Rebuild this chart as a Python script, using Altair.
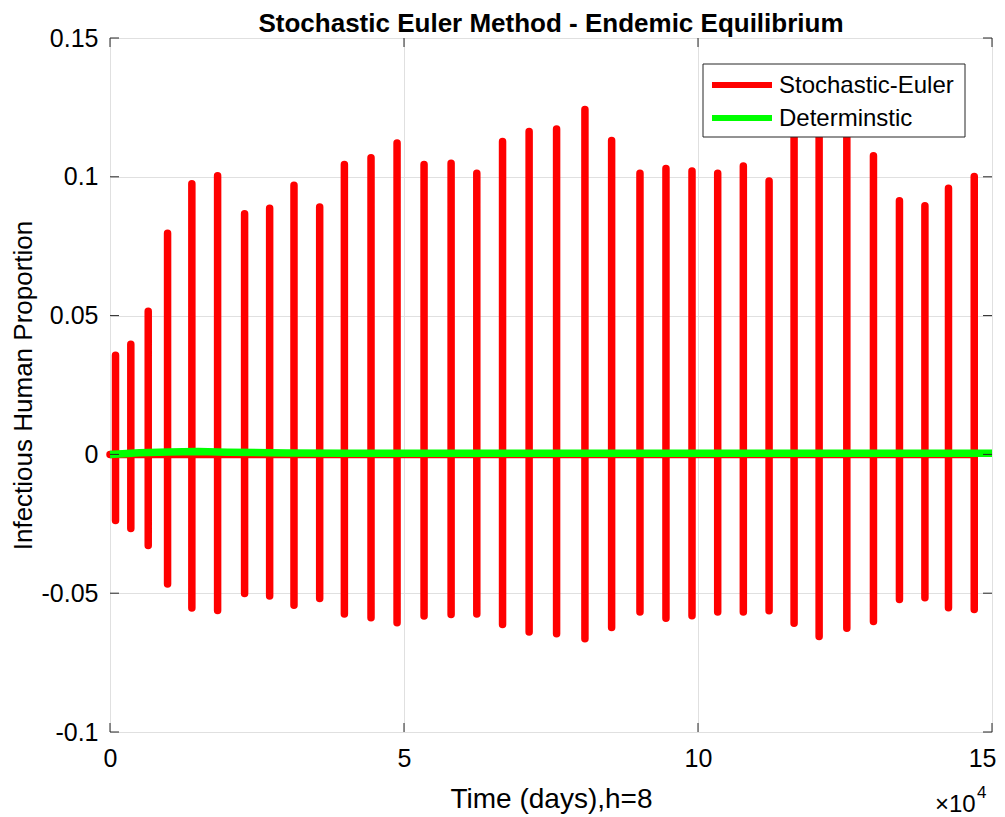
import altair as alt
import pandas as pd

# ---- data ----
spike_t = [0.094, 0.354, 0.650, 0.979, 1.392, 1.830, 2.289, 2.715, 3.129, 3.566,
           3.986, 4.439, 4.882, 5.341, 5.801, 6.238, 6.676, 7.128, 7.595, 8.077,
           8.531, 9.013, 9.455, 9.898, 10.335, 10.771, 11.209, 11.634, 12.060, 12.531,
           12.984, 13.426, 13.859, 14.260, 14.698]
spike_peak = [0.0357, 0.0397, 0.0516, 0.0797, 0.0975, 0.1004, 0.0867, 0.0887, 0.0970, 0.0891,
              0.1044, 0.1069, 0.1122, 0.1044, 0.1049, 0.1013, 0.1127, 0.1163, 0.1172, 0.1242,
              0.1131, 0.1013, 0.1030, 0.1021, 0.1013, 0.1039, 0.0985, 0.1160, 0.1190, 0.1165,
              0.1076, 0.0914, 0.0896, 0.0959, 0.1001]
spike_trough = [-0.0238, -0.0267, -0.0328, -0.0467, -0.0553, -0.0562, -0.0501, -0.0510, -0.0543, -0.0519,
                -0.0575, -0.0588, -0.0606, -0.0582, -0.0577, -0.0575, -0.0613, -0.0640, -0.0646, -0.0664,
                -0.0624, -0.0568, -0.0590, -0.0581, -0.0568, -0.0568, -0.0563, -0.0608, -0.0656, -0.0626,
                -0.0602, -0.0523, -0.0516, -0.0552, -0.0559]

det_t = [0, 0.5, 1.0, 1.5, 2.0, 3.0, 4.0, 6.0, 8.0, 10.0, 12.0, 15.0]
det_v = [0.0, 0.0006, 0.0009, 0.0010, 0.0008, 0.0005, 0.0004, 0.0004, 0.0004, 0.0004, 0.0004, 0.0004]

x_ticks = [0, 5, 10, 15]
y_ticks = [-0.1, -0.05, 0, 0.05, 0.1, 0.15]
series_names = ["Stochastic-Euler", "Determinstic"]
series_colors = ["#ff0000", "#00ff00"]
title_text = "Stochastic Euler Method - Endemic Equilibrium"

# ---- tables ----
rows = [{"t": 0.0, "v": 0.0, "o": 0, "s": series_names[0]}]
k = 1
for t, p, tr in zip(spike_t, spike_peak, spike_trough):
    for v in (0.0, p, tr, 0.0):
        rows.append({"t": t, "v": v, "o": k, "s": series_names[0]})
        k += 1
red_df = pd.DataFrame(rows)
green_df = pd.DataFrame({"t": det_t, "v": det_v, "o": list(range(len(det_t))),
                         "s": series_names[1]})
xt_df = pd.DataFrame({"t": x_ticks})
yt_df = pd.DataFrame({"v": y_ticks})
leg_df = pd.DataFrame({"s": series_names, "c": series_colors})
title_df = pd.DataFrame({"txt": [title_text]})

W, H = 882, 694
FONT = "Liberation Sans"
AX = "#262626"

xscale = alt.Scale(domain=[0, 15], nice=False, zero=False)
yscale = alt.Scale(domain=[-0.1, 0.15], nice=False, zero=False)
cscale = alt.Scale(domain=series_names, range=series_colors)

x_axis = alt.Axis(values=x_ticks, title="Time (days),h=8", grid=True, gridColor="#e0e0e0",
                  domain=False, ticks=False, labelFontSize=25, labelFont=FONT, labelColor="#000",
                  labelPadding=14, labelFlush=False,
                  labelAlign={"condition": {"test": "datum.value == 15", "value": "right"},
                              "value": "center"},
                  labelOffset={"condition": {"test": "datum.value == 15", "value": 4},
                               "value": 0},
                  titleFontSize=28, titleFont=FONT,
                  titleFontWeight="normal", titleColor="#000", titlePadding=14)
y_axis = alt.Axis(values=y_ticks, title="Infectious Human Proportion", grid=True, gridColor="#e0e0e0",
                  domain=False, ticks=False, labelFontSize=25, labelFont=FONT, labelColor="#000",
                  labelPadding=12, labelFlush=False, labelExpr="'' + datum.value",
                  titleFontSize=26, titleFont=FONT, titleFontWeight="normal", titleColor="#000",
                  titlePadding=5)

X = alt.X("t:Q", scale=xscale, axis=x_axis)
Y = alt.Y("v:Q", scale=yscale, axis=y_axis)

red = alt.Chart(red_df).mark_line(strokeWidth=7.5, strokeCap="round", strokeJoin="round").encode(
    x=X, y=Y,
    color=alt.Color("s:N", scale=cscale, legend=None),
    order="o:Q",
)
green = alt.Chart(green_df).mark_line(strokeWidth=7.5, strokeCap="butt", strokeJoin="round").encode(
    x=X, y=Y,
    color=alt.Color("s:N", scale=cscale, legend=None),
    order="o:Q",
)

tick_y_left = alt.Chart(yt_df).mark_rule(color=AX, strokeWidth=1).encode(
    y=Y, x=alt.value(0), x2=alt.value(9))
tick_y_right = alt.Chart(yt_df).mark_rule(color=AX, strokeWidth=1).encode(
    y=Y, x=alt.value(W - 9), x2=alt.value(W))
tick_x_bot = alt.Chart(xt_df).mark_rule(color=AX, strokeWidth=1).encode(
    x=X, y=alt.value(H - 9), y2=alt.value(H))
tick_x_top = alt.Chart(xt_df).mark_rule(color=AX, strokeWidth=1).encode(
    x=X, y=alt.value(0), y2=alt.value(9))

# legend box (drawn by hand, MATLAB style)
LX, LY, LW, LH = 593, 26, 262, 73
leg_box = alt.Chart(leg_df.head(1)).mark_rect(fill="white", stroke=AX, strokeWidth=1).encode(
    x=alt.value(LX), x2=alt.value(LX + LW), y=alt.value(LY), y2=alt.value(LY + LH))
leg_lines = []
leg_texts = []
for i, (name, col) in enumerate(zip(series_names, series_colors)):
    yy = LY + 21 + i * 33
    d = leg_df.iloc[[i]]
    leg_lines.append(alt.Chart(d).mark_rule(color=col, strokeWidth=6).encode(
        x=alt.value(LX + 9), x2=alt.value(LX + 69), y=alt.value(yy)))
    leg_texts.append(alt.Chart(d).mark_text(fontSize=24, font=FONT, align="left", baseline="middle",
                                            color="#000").encode(
        text="s:N", x=alt.value(LX + 76), y=alt.value(yy + 1)))

exp_df = pd.DataFrame({"txt": ["\u00d710"], "sup": ["4"]})
exp_main = alt.Chart(exp_df).mark_text(fontSize=24, font=FONT, align="left", baseline="alphabetic",
                                        color="#000").encode(
    text="txt:N", x=alt.value(825), y=alt.value(H + 80))
exp_sup = alt.Chart(exp_df).mark_text(fontSize=17, font=FONT, align="left", baseline="alphabetic",
                                       color="#000").encode(
    text="sup:N", x=alt.value(867), y=alt.value(H + 66))

title_mark = alt.Chart(title_df).mark_text(fontSize=26, font=FONT, fontWeight="bold", align="center",
                                           baseline="alphabetic", color="#000").encode(
    text="txt:N", x=alt.value(W / 2), y=alt.value(-6))

chart = alt.layer(red, green, tick_y_left, tick_y_right, tick_x_bot, tick_x_top,
                  leg_box, *leg_lines, *leg_texts, exp_main, exp_sup, title_mark).properties(
    width=W, height=H,
    autosize=alt.AutoSizeParams(type="none"),
    padding={"left": 102, "top": 30, "right": 5, "bottom": 85},
).configure_view(stroke=AX, strokeWidth=1.2).configure(background="white")

chart.save("out.html", embed_options={"renderer": "svg", "actions": False})
